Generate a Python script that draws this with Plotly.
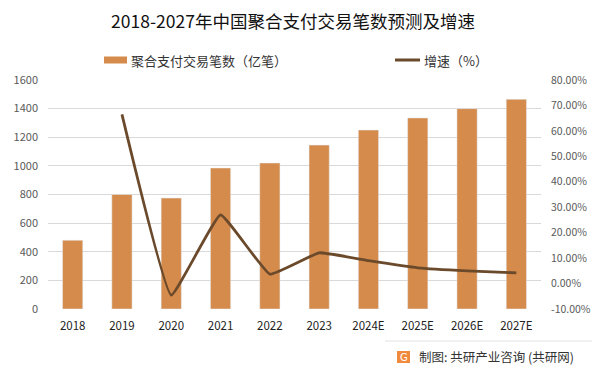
import plotly.graph_objects as go

years = ["2018", "2019", "2020", "2021", "2022", "2023", "2024E", "2025E", "2026E", "2027E"]
volume = [480, 800, 775, 985, 1020, 1145, 1250, 1335, 1400, 1465]
growth = [None, 66.5, -4.5, 27.0, 3.7, 12.1, 9.0, 6.2, 5.0, 4.2]
left_ticks = [0, 200, 400, 600, 800, 1000, 1200, 1400, 1600]
right_ticks = [-10, 0, 10, 20, 30, 40, 50, 60, 70, 80]

BAR = "#D58B4B"
LINE = "#6B4A2C"
FONT = "Noto Sans CJK SC"

W, H = 599, 370
L, R, T, B = 48, 58, 80, 61
pw, ph = W - L - R, H - T - B

def px(x):
    return (x - L) / pw

def py(y):
    return (H - B - y) / ph

fig = go.Figure()
fig.add_trace(go.Bar(x=years, y=volume, marker_color=BAR, name="聚合支付交易笔数（亿笔）",
                     showlegend=False, yaxis="y"))
fig.add_trace(go.Scatter(x=years, y=growth, mode="lines", name="增速（%）",
                         line=dict(color=LINE, width=2.8, shape="spline", smoothing=0.3),
                         showlegend=False, yaxis="y2", connectgaps=False))

fig.update_layout(
    width=W, height=H,
    margin=dict(l=L, r=R, t=T, b=B, autoexpand=False),
    paper_bgcolor="white", plot_bgcolor="white",
    font=dict(family=FONT, size=11, color="#595959"),
    bargap=0.59,
    title=dict(text="2018-2027年中国聚合支付交易笔数预测及增速", x=293 / W, xanchor="center",
               y=1 - 22 / H, yanchor="middle", font=dict(size=17.5, color="#111111", family=FONT)),
    xaxis=dict(showgrid=False, showline=False, ticks="", zeroline=False, automargin=False,
               ticklabelstandoff=8,
               tickfont=dict(size=11.5, color="#222222", family=FONT)),
    yaxis=dict(range=[0, 1600], tickvals=left_ticks, ticktext=[str(v) for v in left_ticks],
               showgrid=True, gridcolor="#D9D9D9", gridwidth=1, zeroline=False, automargin=False,
               ticklabelstandoff=9,
               showline=False, ticks="", tickfont=dict(size=11, color="#595959")),
    yaxis2=dict(range=[-10, 80], overlaying="y", side="right", tickvals=right_ticks,
                ticktext=[f"{v:.2f}%" for v in right_ticks], showgrid=False, zeroline=False,
                automargin=False, showline=False, ticks="", ticklabelstandoff=9,
                tickfont=dict(size=10.5, color="#595959")),
)

# legend (drawn manually to match the reference layout)
fig.add_shape(type="rect", xref="paper", yref="paper", x0=px(104), x1=px(127),
              y0=py(63.5), y1=py(56.5), fillcolor=BAR, line_width=0)
fig.add_annotation(text="聚合支付交易笔数（亿笔）", xref="paper", yref="paper", x=px(129), y=py(60),
                   xanchor="left", yanchor="middle", showarrow=False,
                   font=dict(size=13, color="#333333", family=FONT))
fig.add_shape(type="line", xref="paper", yref="paper", x0=px(395), x1=px(420),
              y0=py(60), y1=py(60), line=dict(color=LINE, width=3))
fig.add_annotation(text="增速（%）", xref="paper", yref="paper", x=px(422), y=py(60),
                   xanchor="left", yanchor="middle", showarrow=False,
                   font=dict(size=13, color="#333333", family=FONT))

# footer
fig.add_shape(type="line", xref="paper", yref="paper", x0=px(385), x1=px(592),
              y0=py(341), y1=py(341), line=dict(color="#E3E3E3", width=1))
fig.add_shape(type="rect", xref="paper", yref="paper", x0=px(397), x1=px(410),
              y0=py(363), y1=py(351), fillcolor="#F08A3C", line_width=0)
fig.add_annotation(text="G", xref="paper", yref="paper", x=px(403.5), y=py(357),
                   xanchor="center", yanchor="middle", showarrow=False,
                   font=dict(size=10, color="white", family="DejaVu Sans"))
fig.add_annotation(text="制图: 共研产业咨询 (共研网)", xref="paper", yref="paper", x=px(417), y=py(356),
                   xanchor="left", yanchor="middle", showarrow=False,
                   font=dict(size=12.5, color="#333333", family=FONT))

fig.write_html("out.html", config={"displayModeBar": False},
               post_script="document.body.style.margin='0';document.body.style.overflow='hidden';")
